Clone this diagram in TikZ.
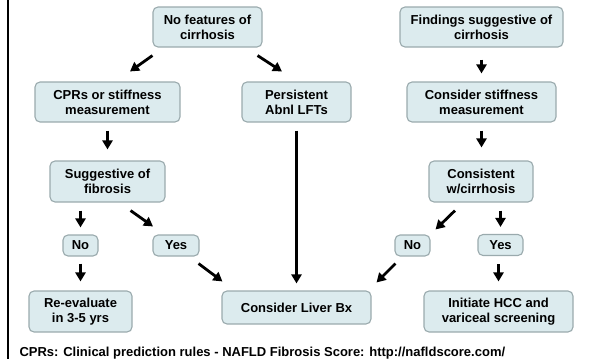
\documentclass[tikz,border=0pt]{standalone}
\usepackage{fontspec}
\setmainfont{Liberation Sans}
\usetikzlibrary{arrows.meta}
\definecolor{boxfill}{HTML}{DCEBEE}
\definecolor{boxline}{HTML}{9AAAAD}

\tikzset{
    box/.style={draw=boxline, fill=boxfill, line width=1.1pt, rounded corners=5pt,
        align=center, inner sep=0pt, font=\bfseries\fontsize{13}{15}\selectfont},
    arr/.style={line width=2.8pt, -{Triangle[length=9pt,width=10pt]}},
}

\begin{document}
\begin{tikzpicture}[x=1pt, y=-1pt]
            \useasboundingbox (0,0) rectangle (589,364);
            \draw[line width=2.5pt] (8,0) -- (8,359);

            % left branch: no features of cirrhosis
            \node[box, minimum width=109pt, minimum height=40pt] (nofeat) at (207.5,27) {No features of\\cirrhosis};
            \node[box, minimum width=145pt, minimum height=40pt] (cprs) at (107.5,102) {CPRs or stiffness\\measurement};
            \node[box, minimum width=109pt, minimum height=40pt] (persist) at (296.5,102) {Persistent\\Abnl LFTs};
            \node[box, minimum width=115pt, minimum height=41pt] (suggest) at (107.5,181.5) {Suggestive of\\fibrosis};
            \node[box, minimum width=35pt, minimum height=21pt] (noL) at (80.5,245.5) {No};
            \node[box, minimum width=46pt, minimum height=21pt] (yesL) at (176,245.5) {Yes};
            \node[box, minimum width=103pt, minimum height=41pt] (reeval) at (80.5,311.5) {Re-evaluate\\in 3-5 yrs};
            \node[box, minimum width=149pt, minimum height=33pt] (liverbx) at (296.5,307.5) {Consider Liver Bx};

            % right branch: findings suggestive of cirrhosis
            \node[box, minimum width=163pt, minimum height=40pt] (findings) at (481.5,27) {Findings suggestive of\\cirrhosis};
            \node[box, minimum width=149pt, minimum height=40pt] (stiff) at (481.5,102) {Consider stiffness\\measurement};
            \node[box, minimum width=104pt, minimum height=41pt] (consist) at (481,181.5) {Consistent\\w/cirrhosis};
            \node[box, minimum width=35pt, minimum height=21pt] (noR) at (412.5,245.5) {No};
            \node[box, minimum width=45pt, minimum height=21pt] (yesR) at (500.5,245) {Yes};
            \node[box, minimum width=149pt, minimum height=41pt] (hcc) at (498.5,311.5) {Initiate HCC and\\variceal screening};

            \node[anchor=base west, font=\bfseries\fontsize{13}{15}\selectfont] (note) at (16,356)
                {CPRs: Clinical prediction rules - NAFLD Fibrosis Score: http://nafldscore.com/};

            % arrows
            \draw[arr] ([shift={(0,8)}]nofeat.south west) -- ([shift={(22.5,-10)}]cprs.north);
            \draw[arr] ([shift={(-5,8)}]nofeat.south east) -- ([shift={(-14.5,-10)}]persist.north);
            \draw[arr, shorten <=8pt, shorten >=11pt] (cprs.south) -- (suggest.north);
            \draw[arr, shorten <=8pt, shorten >=7pt] (persist.south) -- (liverbx.north);
            \draw[arr, shorten <=8pt, shorten >=7pt] (noL.north |- suggest.south) -- (noL.north);
            \draw[arr] ([shift={(-35,8)}]suggest.south east) -- ([shift={(-23,-8)}]yesL.north);
            \draw[arr, shorten <=7pt, shorten >=9pt] (noL.south) -- (noL.south |- reeval.north);
            \draw[arr] ([shift={(-1,7)}]yesL.south east) -- ([shift={(1,-9)}]liverbx.north west);

            \draw[arr, shorten <=12pt, shorten >=8pt] (findings.south) -- (stiff.north);
            \draw[arr, shorten <=8pt, shorten >=13pt] (stiff.south) -- (stiff.south |- consist.north);
            \draw[arr] ([shift={(-26,8)}]consist.south) -- ([shift={(5,-5)}]noR.north east);
            \draw[arr, shorten <=8pt, shorten >=7pt] (yesR.north |- consist.south) -- (yesR.north);
            \draw[arr] ([shift={(1,7)}]noR.south west) -- ([shift={(5,-8)}]liverbx.north east);
            \draw[arr, shorten <=8pt, shorten >=9pt] (hcc.north |- yesR.south) -- (hcc.north);
\end{tikzpicture}
\end{document}
